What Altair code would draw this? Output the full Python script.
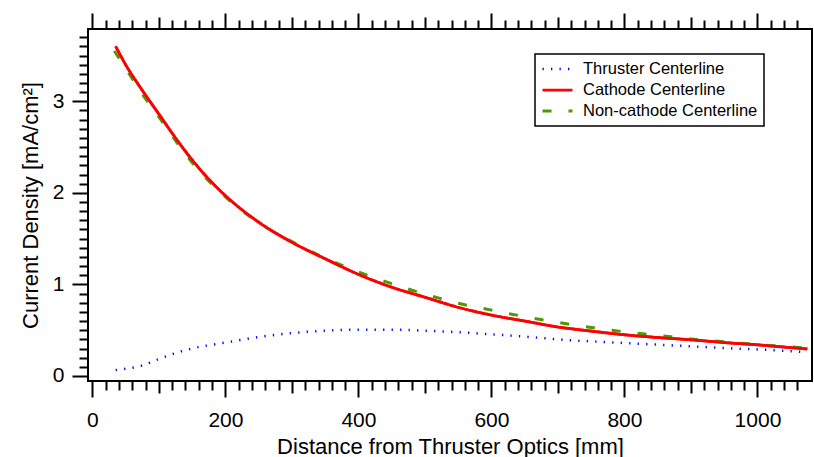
import altair as alt
import pandas as pd

series_names = ["Thruster Centerline", "Cathode Centerline", "Non-cathode Centerline"]
series_colors = ["#0000ff", "#ff0000", "#4c9900"]

thruster_x = [35, 50, 75, 100, 125, 150, 175, 200, 250, 300, 350, 400, 450, 500, 550,
              600, 650, 700, 750, 800, 850, 900, 950, 1000, 1050, 1072]
thruster_y = [0.065, 0.078, 0.115, 0.185, 0.25, 0.30, 0.335, 0.365, 0.425, 0.468, 0.495,
              0.505, 0.505, 0.495, 0.478, 0.455, 0.43, 0.40, 0.378, 0.36, 0.342, 0.324,
              0.305, 0.29, 0.27, 0.26]

cathode_x = [35, 50, 75, 100, 125, 150, 175, 200, 250, 300, 350, 400, 450, 500, 550,
             600, 650, 700, 750, 800, 850, 900, 950, 1000, 1050, 1075]
cathode_y = [3.60, 3.40, 3.12, 2.86, 2.60, 2.36, 2.15, 1.97, 1.68, 1.46, 1.28, 1.11,
             0.97, 0.86, 0.75, 0.665, 0.60, 0.535, 0.49, 0.45, 0.42, 0.395, 0.365,
             0.34, 0.31, 0.295]

noncathode_x = [33, 50, 75, 100, 125, 150, 175, 200, 250, 300, 350, 400, 450, 500, 550,
                600, 650, 700, 750, 800, 850, 900, 950, 1000, 1050, 1072]
noncathode_y = [3.55, 3.36, 3.08, 2.83, 2.57, 2.33, 2.13, 1.956, 1.675, 1.467, 1.288,
                1.135, 1.008, 0.894, 0.795, 0.719, 0.648, 0.585, 0.53, 0.482, 0.444,
                0.404, 0.373, 0.342, 0.317, 0.305]

x_major = [0, 200, 400, 600, 800, 1000]
x_medium = [100, 300, 500, 700, 900]
x_minor = [v for v in range(20, 1061, 20) if v % 100 != 0]
y_major = [0, 1, 2, 3]
y_minor = [round(i * 0.1, 1) for i in range(1, 38) if i % 10 != 0]

rows = []
for name, xs_, ys_ in [(series_names[0], thruster_x, thruster_y),
                       (series_names[1], cathode_x, cathode_y),
                       (series_names[2], noncathode_x, noncathode_y)]:
    for xv, yv in zip(xs_, ys_):
        rows.append({"series": name, "x": xv, "y": yv})
df = pd.DataFrame(rows)

FONT = "Liberation Sans"
xscale = alt.Scale(domain=[-6.6, 1082], nice=False, zero=False)
yscale = alt.Scale(domain=[-0.055, 3.79], nice=False, zero=False)

legend = alt.Legend(title=None, orient="none", legendX=447, legendY=25)

color = alt.Color("series:N", scale=alt.Scale(domain=series_names, range=series_colors), legend=legend)
dash = alt.StrokeDash("series:N", scale=alt.Scale(domain=series_names,
                                                  range=[[1.3, 7.2], [1, 0], [9, 17]]), legend=legend)
swidth = alt.StrokeWidth("series:N", scale=alt.Scale(domain=series_names, range=[2.5, 3, 4]),
                         legend=legend)

x_axis_main = alt.Axis(orient="bottom", values=x_major, tickSize=16, tickWidth=2, tickColor="black",
                       domain=False, grid=False, labelFont=FONT, labelFontSize=21, labelColor="black",
                       labelPadding=12, labelFlush=False, labelOverlap=False, format="d",
                       title="Distance from Thruster Optics [mm]", titleFont=FONT, titleFontSize=22,
                       titleFontWeight="normal", titleColor="black", titleBaseline="alphabetic",
                       titleY=72)
y_axis_main = alt.Axis(orient="left", values=y_major, tickSize=16, tickWidth=2, tickColor="black",
                       domain=False, grid=False, labelFont=FONT, labelFontSize=21, labelColor="black",
                       labelPadding=8, labelFlush=False, labelOverlap=False, format="d",
                       title="Current Density [mA/cm²]", titleFont=FONT, titleFontSize=22,
                       titleFontWeight="normal", titleColor="black", titleBaseline="alphabetic",
                       titleX=-51)


def line_layer(name, first=False):
    return alt.Chart(df).transform_filter(alt.datum.series == name).mark_line(
        interpolate="monotone", clip=True
    ).encode(
        x=alt.X("x:Q", scale=xscale, axis=x_axis_main if first else None),
        y=alt.Y("y:Q", scale=yscale, axis=y_axis_main if first else None),
        color=color, strokeDash=dash, strokeWidth=swidth,
    )


def tick_layer(ch, orient, values, size):
    ax = alt.Axis(orient=orient, values=values, tickSize=size, tickWidth=2, tickColor="black",
                  domain=False, grid=False, labels=False, title=None)
    if ch == "x":
        enc = dict(x=alt.X("x:Q", scale=xscale, axis=ax), y=alt.Y("y:Q", scale=yscale, axis=None))
    else:
        enc = dict(x=alt.X("x:Q", scale=xscale, axis=None), y=alt.Y("y:Q", scale=yscale, axis=ax))
    return alt.Chart(df).mark_point(opacity=0).encode(**enc)


layers = [
    line_layer(series_names[1], first=True),
    line_layer(series_names[0]),
    line_layer(series_names[2]),
    line_layer(series_names[1]),
    tick_layer("x", "bottom", x_medium, 12),
    tick_layer("x", "bottom", x_minor, 9),
    tick_layer("x", "top", x_major, 16),
    tick_layer("x", "top", x_medium, 12),
    tick_layer("x", "top", x_minor, 9),
    tick_layer("y", "left", y_minor, 9),
]

chart = alt.layer(*layers).resolve_axis(x="independent", y="independent").properties(
    width=724, height=352,
    autosize=alt.AutoSizeParams(type="none"),
    padding={"left": 88, "top": 29, "right": 2, "bottom": 76},
    background="white",
).configure_view(
    stroke="black", strokeWidth=2
).configure_legend(
    padding=6, fillColor="white", strokeColor="black", strokeWidth=1.5,
    labelFont=FONT, labelFontSize=16.5, labelColor="black", labelLimit=0,
    symbolType="M-1,0H3", symbolSize=225, labelOffset=24, rowPadding=3,
)

chart.save("out.html", embed_options={"renderer": "svg", "actions": False})
